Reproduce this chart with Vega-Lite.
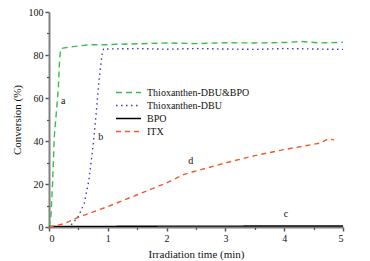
{
  "$schema": "https://vega.github.io/schema/vega-lite/v6.json",
  "width": 294,
  "height": 215,
  "autosize": "none",
  "padding": {"left": 49, "top": 12, "right": 27, "bottom": 34},
  "config": {
    "view": {"stroke": null},
    "font": "serif",
    "text": {"font": "serif"},
    "legend": {"labelFont": "serif"},
    "axis": {"labelFont": "serif", "titleFont": "serif", "grid": false, "labelColor": "#111", "titleColor": "#111", "titleFontWeight": "normal"}
  },
  "datasets": {
    "curves": [
      {"t": 0, "v": 0, "s": "Thioxanthen-DBU&BPO"},
      {"t": 0.03, "v": 4, "s": "Thioxanthen-DBU&BPO"},
      {"t": 0.06, "v": 20, "s": "Thioxanthen-DBU&BPO"},
      {"t": 0.09, "v": 42, "s": "Thioxanthen-DBU&BPO"},
      {"t": 0.13, "v": 55, "s": "Thioxanthen-DBU&BPO"},
      {"t": 0.16, "v": 65, "s": "Thioxanthen-DBU&BPO"},
      {"t": 0.18, "v": 78, "s": "Thioxanthen-DBU&BPO"},
      {"t": 0.2, "v": 83, "s": "Thioxanthen-DBU&BPO"},
      {"t": 0.3, "v": 83.5, "s": "Thioxanthen-DBU&BPO"},
      {"t": 0.5, "v": 84.2, "s": "Thioxanthen-DBU&BPO"},
      {"t": 0.7, "v": 84.8, "s": "Thioxanthen-DBU&BPO"},
      {"t": 1, "v": 84.8, "s": "Thioxanthen-DBU&BPO"},
      {"t": 1.2, "v": 85, "s": "Thioxanthen-DBU&BPO"},
      {"t": 1.5, "v": 85.2, "s": "Thioxanthen-DBU&BPO"},
      {"t": 2, "v": 85.6, "s": "Thioxanthen-DBU&BPO"},
      {"t": 2.5, "v": 85.3, "s": "Thioxanthen-DBU&BPO"},
      {"t": 3, "v": 85.7, "s": "Thioxanthen-DBU&BPO"},
      {"t": 3.5, "v": 85.6, "s": "Thioxanthen-DBU&BPO"},
      {"t": 4, "v": 85.8, "s": "Thioxanthen-DBU&BPO"},
      {"t": 4.3, "v": 86.3, "s": "Thioxanthen-DBU&BPO"},
      {"t": 4.6, "v": 85.6, "s": "Thioxanthen-DBU&BPO"},
      {"t": 5, "v": 85.9, "s": "Thioxanthen-DBU&BPO"},
      {"t": 0.3, "v": 0, "s": "Thioxanthen-DBU"},
      {"t": 0.4, "v": 1.5, "s": "Thioxanthen-DBU"},
      {"t": 0.5, "v": 5, "s": "Thioxanthen-DBU"},
      {"t": 0.6, "v": 11, "s": "Thioxanthen-DBU"},
      {"t": 0.68, "v": 22, "s": "Thioxanthen-DBU"},
      {"t": 0.75, "v": 38, "s": "Thioxanthen-DBU"},
      {"t": 0.8, "v": 52, "s": "Thioxanthen-DBU"},
      {"t": 0.85, "v": 68, "s": "Thioxanthen-DBU"},
      {"t": 0.9, "v": 80, "s": "Thioxanthen-DBU"},
      {"t": 0.93, "v": 83, "s": "Thioxanthen-DBU"},
      {"t": 1, "v": 82.8, "s": "Thioxanthen-DBU"},
      {"t": 1.5, "v": 83, "s": "Thioxanthen-DBU"},
      {"t": 2, "v": 82.7, "s": "Thioxanthen-DBU"},
      {"t": 2.5, "v": 83, "s": "Thioxanthen-DBU"},
      {"t": 3, "v": 82.8, "s": "Thioxanthen-DBU"},
      {"t": 3.5, "v": 82.6, "s": "Thioxanthen-DBU"},
      {"t": 4, "v": 83, "s": "Thioxanthen-DBU"},
      {"t": 4.5, "v": 82.8, "s": "Thioxanthen-DBU"},
      {"t": 5, "v": 82.6, "s": "Thioxanthen-DBU"},
      {"t": 0, "v": 0.3, "s": "BPO"},
      {"t": 1, "v": 0.3, "s": "BPO"},
      {"t": 2, "v": 0.4, "s": "BPO"},
      {"t": 3, "v": 0.4, "s": "BPO"},
      {"t": 4, "v": 0.5, "s": "BPO"},
      {"t": 5, "v": 0.5, "s": "BPO"},
      {"t": 0, "v": 0, "s": "ITX"},
      {"t": 0.25, "v": 1.5, "s": "ITX"},
      {"t": 0.5, "v": 4.5, "s": "ITX"},
      {"t": 0.75, "v": 7, "s": "ITX"},
      {"t": 1, "v": 9.5, "s": "ITX"},
      {"t": 1.5, "v": 15, "s": "ITX"},
      {"t": 2, "v": 20.5, "s": "ITX"},
      {"t": 2.3, "v": 24.5, "s": "ITX"},
      {"t": 2.6, "v": 26.8, "s": "ITX"},
      {"t": 3, "v": 29.8, "s": "ITX"},
      {"t": 3.5, "v": 33.2, "s": "ITX"},
      {"t": 4, "v": 36, "s": "ITX"},
      {"t": 4.3, "v": 37.5, "s": "ITX"},
      {"t": 4.6, "v": 39, "s": "ITX"},
      {"t": 4.75, "v": 41, "s": "ITX"},
      {"t": 4.85, "v": 40.5, "s": "ITX"}
    ],
    "labels": [
      {"t": 0.24, "v": 58.4, "label": "a"},
      {"t": 0.88, "v": 41.7, "label": "b"},
      {"t": 4.03, "v": 6, "label": "c"},
      {"t": 2.41, "v": 30.6, "label": "d"}
    ]
  },
  "layer": [
    {
      "data": {"name": "curves"},
      "mark": {"type": "line", "strokeWidth": 1.4, "clip": true},
      "encoding": {
        "x": {"field": "t", "type": "quantitative", "scale": {"domain": [0, 5], "nice": false},
          "axis": {"orient": "bottom", "values": [0, 1, 2, 3, 4, 5], "title": "Irradiation time (min)", "titleFontSize": 11, "labelFontSize": 10, "domainColor": "#808080", "domainWidth": 2, "tickColor": "#555", "tickSize": 4, "tickWidth": 1.5, "labelPadding": 2, "titlePadding": 5}},
        "y": {"field": "v", "type": "quantitative", "scale": {"domain": [0, 100], "nice": false},
          "axis": {"orient": "left", "values": [0, 20, 40, 60, 80, 100], "title": "Conversion (%)", "titleFontSize": 11, "labelFontSize": 10, "domainColor": "#808080", "domainWidth": 2, "tickColor": "#555", "tickSize": 4, "tickWidth": 1.5, "labelPadding": 2, "titlePadding": 6}},
        "color": {"field": "s", "type": "nominal",
          "scale": {"domain": ["Thioxanthen-DBU&BPO", "Thioxanthen-DBU", "BPO", "ITX"], "range": ["#3dbb4f", "#3a3fb0", "#000000", "#f05a28"]},
          "legend": {"orient": "none", "legendX": 66, "legendY": 74, "title": null, "symbolType": "stroke", "symbolSize": 625, "symbolStrokeWidth": 1.5, "labelFontSize": 10, "labelColor": "#111", "labelOffset": 5, "rowPadding": 0, "clipHeight": 13}},
        "strokeDash": {"field": "s", "type": "nominal",
          "scale": {"domain": ["Thioxanthen-DBU&BPO", "Thioxanthen-DBU", "BPO", "ITX"], "range": [[6, 4], [1.5, 3.5], [1, 0], [5, 4]]},
          "legend": {"orient": "none", "legendX": 66, "legendY": 74, "title": null, "symbolType": "stroke", "symbolSize": 625, "symbolStrokeWidth": 1.5, "labelFontSize": 10, "labelColor": "#111", "labelOffset": 5, "rowPadding": 0, "clipHeight": 13}}
      }
    },
    {
      "data": {"name": "labels"},
      "mark": {"type": "text", "fontSize": 10, "color": "#111"},
      "encoding": {
        "x": {"field": "t", "type": "quantitative",
          "axis": {"orient": "bottom", "values": [0.5, 1.5, 2.5, 3.5, 4.5], "labels": false, "domain": false, "title": null, "tickColor": "#555", "tickSize": 2.5, "tickWidth": 1.2}},
        "y": {"field": "v", "type": "quantitative",
          "axis": {"orient": "left", "values": [10, 30, 50, 70, 90], "labels": false, "domain": false, "title": null, "tickColor": "#555", "tickSize": 2.5, "tickWidth": 1.2}},
        "text": {"field": "label"}
      }
    }
  ],
  "resolve": {"axis": {"x": "independent", "y": "independent"}}
}
